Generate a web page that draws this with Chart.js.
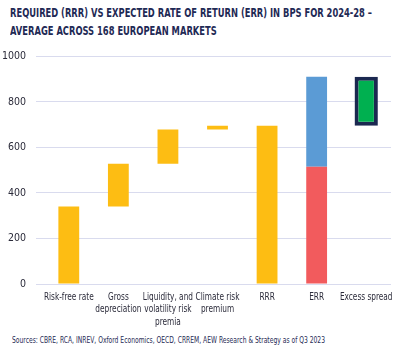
<!DOCTYPE html>
<html lang="en">
<head>
    <meta charset="UTF-8">
    <title>RRR vs ERR</title>
    <script src="https://cdn.jsdelivr.net/npm/chart.js"></script>
    <style>
        body { margin: 0; background: #fff; width: 417px; height: 352px; overflow: hidden; position: relative; }
        .titulo {
            position: absolute; left: 10px; top: 4px;
            font-family: "Liberation Sans Narrow", "DejaVu Sans Condensed", sans-serif;
            font-weight: bold; font-size: 12.5px; line-height: 18px; color: #1f2a55;
            white-space: nowrap; transform-origin: left top;
        }
        .fonte {
            position: absolute; left: 12px; top: 335px;
            font-family: "Liberation Sans Narrow", "DejaVu Sans Condensed", sans-serif;
            font-size: 8.5px; color: #1f2a55; white-space: nowrap; transform-origin: left top;
        }
        #grafico { position: absolute; left: 0; top: 40px; }
    </style>
</head>
<body>
    <div class="titulo" id="titulo">REQUIRED (RRR) VS EXPECTED RATE OF RETURN (ERR) IN BPS FOR 2024-28 –<br>AVERAGE ACROSS 168 EUROPEAN MARKETS</div>
    <canvas id="grafico" width="417" height="290"></canvas>
    <div class="fonte" id="fonte">Sources: CBRE, RCA, INREV, Oxford Economics, OECD, CRREM, AEW Research &amp; Strategy as of Q3 2023</div>

<script>
    // categorias e valores (bps)
    const categorias = ['Risk-free rate', ['Gross', 'depreciation'], ['Liquidity, and', 'volatility risk', 'premia'], ['Climate risk', 'premium'], 'RRR', 'ERR', 'Excess spread'];
    const barrasAmarelas = [[0, 340], [340, 528], [528, 678], [678, 695], [0, 695], null, null];
    const errVermelho = [null, null, null, null, null, [0, 515], null];
    const errAzul = [null, null, null, null, null, [515, 910], null];
    const spreadVerde = [null, null, null, null, null, null, [695, 910]];
    const ticksY = [0, 200, 400, 600, 800, 1000];

    const fonteEixo = "'Liberation Sans Narrow', 'DejaVu Sans Condensed', sans-serif";

    // rótulos do eixo x em fonte estreita (a fonte original é condensada)
    const rotulosEstreitos = {
        id: 'rotulosEstreitos',
        afterDraw(chart) {
            const s = chart.scales.x;
            const ctx = chart.ctx;
            ctx.save();
            ctx.font = '10px ' + fonteEixo;
            ctx.fillStyle = '#2b2b3a';
            ctx.textAlign = 'center';
            ctx.textBaseline = 'middle';
            chart.data.labels.forEach((lab, i) => {
                const x = s.getPixelForTick(i);
                const linhas = Array.isArray(lab) ? lab : [lab];
                linhas.forEach((linha, j) => {
                    ctx.save();
                    ctx.translate(x, s.top + 13 + j * 12.5);
                    ctx.scale(0.82, 1);
                    ctx.fillText(linha, 0, 0);
                    ctx.restore();
                });
            });
            ctx.restore();
        }
    };

    new Chart(document.getElementById('grafico'), {
        type: 'bar',
        data: {
            labels: categorias,
            datasets: [
                { data: barrasAmarelas, backgroundColor: '#fdbd13', grouped: false, barPercentage: 0.42, categoryPercentage: 1 },
                { data: errVermelho, backgroundColor: '#f25b5d', grouped: false, barPercentage: 0.42, categoryPercentage: 1 },
                { data: errAzul, backgroundColor: '#5b9bd5', grouped: false, barPercentage: 0.42, categoryPercentage: 1 },
                { data: spreadVerde, backgroundColor: '#00b050', borderColor: '#1b2850', borderWidth: 4, borderSkipped: false, grouped: false, barPercentage: 0.47, categoryPercentage: 1 }
            ]
        },
        options: {
            responsive: false,
            animation: false,
            layout: { padding: { top: 11, right: 26, left: 0, bottom: 0 } },
            plugins: { legend: { display: false }, tooltip: { enabled: false } },
            scales: {
                x: {
                    grid: { display: false },
                    border: { display: false },
                    ticks: { display: false },
                    afterFit: function (s) { s.height = 46; }
                },
                y: {
                    min: 0, max: 1000,
                    afterBuildTicks: function (s) { s.ticks = ticksY.map(v => ({ value: v })); },
                    grid: { color: '#d9dbee', lineWidth: 1 },
                    border: { display: false },
                    ticks: { color: '#2b2b3a', font: { family: fonteEixo, size: 10.5 }, padding: 10, callback: v => String(v) },
                    afterFit: function (s) { s.width = 44; }
                }
            }
        },
        plugins: [rotulosEstreitos]
    });

    // ajusta largura dos textos ao original
    function ajusta(id, alvo) {
        const el = document.getElementById(id);
        const l = el.getBoundingClientRect().width;
        if (l > 0) el.style.transform = 'scaleX(' + (alvo / l) + ')';
    }
    ajusta('titulo', 362);
    ajusta('fonte', 313);
</script>
</body>
</html>
